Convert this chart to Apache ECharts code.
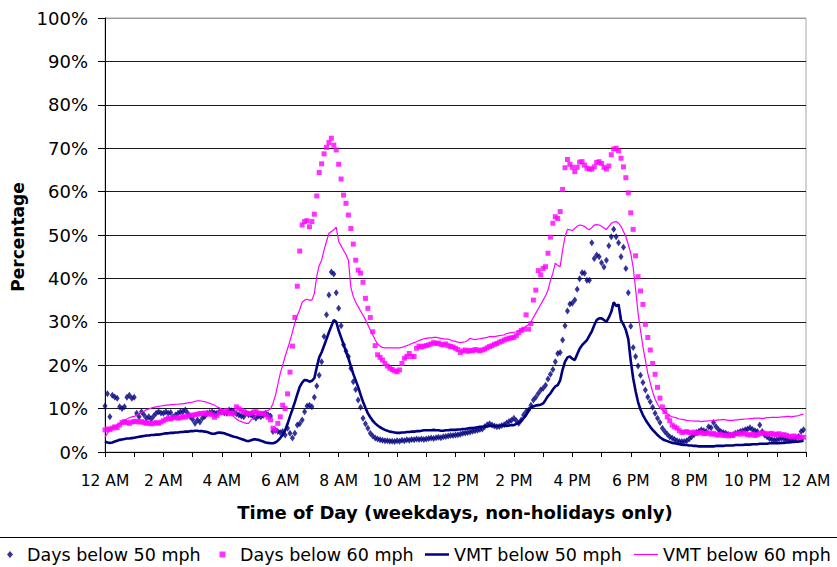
<!DOCTYPE html>
<html><head><meta charset="utf-8">
<script src="https://cdn.jsdelivr.net/npm/echarts/dist/echarts.min.js"></script>
<style>html,body{margin:0;padding:0;background:#fff}#c{width:837px;height:567px}</style>
</head><body><div id="c"></div>
<script>
// x-axis tick labels (every 2 hours)
const tickLabels = ['12 AM','2 AM','4 AM','6 AM','8 AM','10 AM','12 PM','2 PM','4 PM','6 PM','8 PM','10 PM','12 AM'];
// sampling step of the data, minutes
const stepMinutes = 5;

// Days below 50 mph (%), one value every 5 minutes, one row per hour
const days50 = [
10.6,13.4,8.1,13.1,12.7,12.4,10.4,10.0,10.4,12.6,13.1,12.4,
12.6,8.9,8.1,9.3,8.6,7.8,8.1,7.6,8.3,8.9,9.3,9.0,
8.9,9.3,8.9,9.1,8.1,8.5,8.9,9.3,9.3,9.7,8.9,8.1,
7.5,6.6,7.4,6.9,7.8,8.2,8.9,9.1,9.3,9.0,8.9,9.3,
9.3,9.0,8.9,9.7,9.5,9.3,8.8,8.5,8.3,8.1,8.9,8.6,
8.5,8.2,7.8,8.3,8.1,8.4,8.9,8.6,8.3,4.7,5.0,4.7,
4.5,4.7,3.9,5.5,4.3,3.2,4.3,6.2,6.5,7.4,9.3,10.6,
10.8,10.4,12.6,15.2,17.7,20.8,26.6,31.6,36.2,41.5,41.0,36.7,
33.1,29.1,24.7,23.3,22.0,19.3,16.2,14.4,12.0,10.3,7.8,6.5,
5.5,4.3,3.7,3.2,3.0,2.8,2.7,2.6,2.6,2.5,2.5,2.4,
2.6,2.5,2.7,2.6,2.8,2.7,2.9,2.8,3.0,2.9,3.0,2.9,
3.0,3.1,3.2,3.1,3.3,3.4,3.3,3.5,3.6,3.7,3.8,3.8,
3.9,4.0,4.1,4.3,4.4,4.5,4.6,4.8,4.9,5.0,5.2,5.3,
5.8,6.3,6.5,6.2,6.0,5.8,5.9,6.1,6.3,6.7,7.0,7.3,
7.8,7.2,6.6,7.4,8.5,9.3,9.7,10.8,12.0,12.6,13.5,14.3,
14.7,15.4,16.8,17.9,19.0,20.8,22.7,22.9,25.8,29.1,32.5,34.1,
34.3,35.0,37.5,39.9,41.3,41.2,39.6,39.6,48.2,44.6,45.4,45.0,
43.6,42.6,44.2,47.5,49.6,51.3,49.6,48.2,45.0,47.2,42.3,36.7,
29.0,24.1,22.0,19.8,17.7,16.0,14.3,12.7,11.6,10.3,8.9,7.8,
6.8,5.5,4.7,4.1,3.5,3.2,2.9,2.6,2.4,2.4,2.4,2.6,
3.0,3.5,4.0,4.5,4.8,5.1,4.9,4.7,5.8,5.6,6.8,5.9,
5.2,4.7,4.5,4.3,4.1,3.9,4.0,4.3,4.5,4.7,4.9,5.1,
5.3,5.6,5.2,4.9,4.7,6.2,4.7,3.9,3.5,3.1,2.9,2.7,
2.8,3.0,3.2,3.0,2.9,2.8,2.7,2.8,3.2,3.6,4.7,5.1
];

// Days below 60 mph (%)
const days60 = [
5.1,5.3,5.2,5.5,5.8,5.6,6.2,6.8,7.0,6.8,6.6,6.9,
7.0,7.1,6.9,7.0,6.8,6.6,6.7,6.5,6.6,6.8,6.6,6.9,
7.2,7.5,7.8,7.6,7.9,8.0,7.8,7.9,8.2,8.0,8.3,8.5,
8.4,8.6,8.7,8.9,8.8,9.0,8.7,8.9,8.6,8.0,8.4,9.0,
9.3,9.1,9.5,8.8,9.0,8.9,10.4,10.0,9.6,9.3,9.0,8.8,
8.9,9.2,9.3,9.0,8.8,8.9,8.5,8.0,7.4,5.5,5.0,6.6,
8.1,10.8,10.0,13.4,18.4,24.4,31.0,38.2,46.3,52.3,53.1,53.3,
51.9,53.1,54.8,59.0,64.4,66.4,68.7,70.2,71.3,72.3,70.7,69.6,
66.3,62.9,59.2,57.3,54.6,51.5,47.9,44.2,41.9,41.2,39.1,35.4,
33.1,31.0,27.7,24.5,22.4,21.8,21.2,20.4,19.8,19.3,19.0,18.7,
18.5,18.9,20.4,21.6,22.0,22.7,22.0,22.0,23.9,24.4,24.2,24.4,
24.5,24.7,24.9,25.2,25.0,25.1,24.8,24.7,24.9,24.5,24.3,24.2,
23.9,23.6,22.9,23.3,23.5,23.2,23.4,23.3,23.6,23.5,23.3,23.5,
23.7,24.0,24.3,24.5,24.8,25.0,25.3,25.5,25.8,26.0,26.2,26.3,
26.4,26.8,27.5,28.0,28.3,31.6,28.3,29.6,35.0,37.3,41.8,40.8,
42.3,42.7,45.8,49.5,52.7,54.2,53.8,55.4,60.5,65.5,67.4,66.3,
65.6,64.6,65.6,66.8,66.9,66.1,65.4,65.2,65.2,65.7,66.7,66.9,
66.5,65.6,65.2,65.9,68.5,69.8,70.0,69.4,67.7,65.7,63.2,59.7,
55.1,51.3,45.2,40.4,37.1,34.0,29.4,26.4,23.5,20.4,17.9,14.9,
12.4,10.4,9.3,8.1,7.2,6.2,5.8,5.5,4.9,4.5,4.6,4.7,
4.5,4.4,4.6,4.3,4.4,4.5,4.2,4.3,4.4,4.1,4.3,4.0,
3.9,4.1,3.8,3.9,3.7,4.0,3.8,4.2,4.3,4.1,4.4,4.2,
4.0,3.9,4.1,3.8,4.0,4.2,4.4,4.3,4.1,4.2,4.3,4.0,
4.1,4.2,3.9,4.0,3.8,3.6,3.5,3.7,3.4,3.5,3.3,3.4
];

// VMT below 50 mph (%)
const vmt50 = [
2.4,2.2,2.1,2.2,2.4,2.6,2.8,2.9,3.0,3.1,3.1,3.2,
3.3,3.4,3.5,3.6,3.7,3.8,3.8,3.9,3.9,4.0,4.0,4.1,
4.2,4.3,4.3,4.4,4.4,4.5,4.5,4.6,4.6,4.7,4.7,4.8,
4.8,4.9,4.9,4.8,4.8,4.7,4.6,4.4,4.2,4.2,4.4,4.5,
4.4,4.3,4.1,3.9,3.7,3.5,3.4,3.2,3.0,2.8,2.6,2.5,
2.7,2.9,2.9,2.8,2.6,2.4,2.2,2.1,2.0,2.0,2.2,2.6,
3.2,4.0,5.0,6.5,8.2,9.8,11.5,13.3,15.0,16.0,16.6,16.5,
16.2,16.4,17.0,19.5,21.8,23.0,24.5,26.0,27.6,29.0,30.4,30.0,
28.0,26.4,24.8,23.2,21.6,19.8,18.0,16.5,15.0,13.2,11.6,10.2,
8.9,8.0,7.2,6.6,6.1,5.7,5.4,5.1,4.9,4.7,4.6,4.5,
4.4,4.4,4.5,4.5,4.6,4.6,4.7,4.7,4.8,4.8,4.9,5.0,
5.0,5.0,5.0,5.1,5.0,5.0,4.9,4.9,5.0,5.0,5.1,5.1,
5.1,5.2,5.2,5.3,5.3,5.4,5.5,5.5,5.6,5.7,5.8,5.8,
5.9,5.9,6.0,6.0,6.0,6.0,6.0,6.1,6.1,6.0,6.1,6.2,
6.2,6.5,6.7,7.2,7.8,8.5,9.5,10.3,10.5,10.7,10.8,10.9,
11.2,12.0,12.9,13.5,14.4,15.1,15.4,16.5,19.0,20.8,21.8,22.0,
21.5,21.2,22.5,23.8,24.6,25.2,25.8,26.8,27.8,29.2,30.4,30.8,
30.8,30.4,30.0,31.0,32.3,34.5,33.6,34.0,30.4,29.4,28.1,26.0,
21.0,17.0,14.0,11.5,9.8,8.5,7.5,6.6,5.8,5.1,4.5,3.9,
3.4,3.0,2.7,2.5,2.3,2.1,2.0,1.9,1.8,1.7,1.6,1.6,
1.5,1.5,1.4,1.4,1.3,1.3,1.3,1.3,1.3,1.3,1.3,1.4,
1.4,1.4,1.4,1.5,1.5,1.5,1.5,1.6,1.6,1.6,1.6,1.7,
1.7,1.7,1.8,1.8,1.8,1.9,1.9,1.9,1.9,2.0,2.0,2.0,
2.0,2.0,2.1,2.1,2.2,2.2,2.3,2.3,2.4,2.4,2.5,2.6
];

// VMT below 60 mph (%)
const vmt60 = [
3.5,4.3,5.1,5.5,5.9,6.3,6.6,7.0,7.3,7.6,7.9,8.1,
8.2,8.5,8.8,9.1,9.4,9.7,9.9,10.1,10.3,10.4,10.5,10.6,
10.7,10.8,10.8,10.9,10.9,11.0,11.0,11.1,11.1,11.2,11.3,11.4,
11.5,11.7,11.8,11.8,11.7,11.6,11.4,11.2,11.0,10.8,10.4,10.2,
9.8,9.6,9.3,8.9,8.5,8.1,7.6,7.2,7.0,6.8,6.6,6.6,
7.4,7.8,8.3,8.9,9.1,9.3,9.4,9.6,9.9,11.2,13.0,15.5,
18.1,20.0,22.0,23.8,25.6,27.6,29.8,31.5,32.8,34.5,35.0,35.2,
35.0,35.0,36.5,40.5,43.0,44.2,46.5,48.5,50.4,50.8,51.2,51.8,
48.5,47.5,46.5,45.5,44.2,38.0,35.8,34.5,33.5,32.5,31.5,30.5,
29.3,28.1,27.0,25.8,24.9,24.4,24.1,24.0,24.0,24.0,24.0,24.0,
24.0,24.0,24.1,24.3,24.5,24.7,25.0,25.2,25.4,25.7,25.9,26.1,
26.2,26.3,26.3,26.4,26.4,26.3,26.2,26.1,26.0,26.0,25.8,25.6,
25.5,25.3,25.2,25.3,25.4,25.7,26.2,26.0,25.9,26.0,26.1,26.2,
26.3,26.4,26.6,26.6,26.6,26.7,26.8,26.9,27.0,27.3,27.4,27.5,
27.6,27.7,27.9,28.1,28.5,29.0,29.3,30.0,31.0,32.0,33.0,34.0,
35.0,36.0,37.3,39.5,41.2,43.5,43.0,42.7,46.5,49.6,51.3,51.2,
51.0,51.5,52.0,52.3,52.2,52.0,51.5,51.2,51.7,52.3,52.4,52.3,
52.0,51.6,51.3,52.0,52.7,53.0,53.1,52.7,52.0,50.8,49.6,47.8,
45.8,42.5,37.5,32.0,28.0,24.3,21.2,18.1,16.0,13.8,12.2,11.0,
10.2,9.7,9.2,8.8,8.4,8.1,8.0,7.8,7.6,7.5,7.4,7.3,
7.2,7.2,7.1,7.1,7.1,7.0,7.1,7.1,7.2,7.2,7.3,7.3,
7.4,7.4,7.5,7.4,7.3,7.3,7.3,7.4,7.4,7.5,7.5,7.6,
7.6,7.7,7.7,7.8,7.8,7.8,7.7,7.8,7.9,7.9,8.0,8.0,
8.0,8.0,8.1,8.1,8.2,8.2,8.1,8.2,8.3,8.4,8.6,8.7
];

const NAVY = '#000080', MAGENTA = '#FF00FF';
const FONT = 'DejaVu Sans';
const toPoints = arr => arr.map((v, i) => [i * stepMinutes / 60, v]);

const chart = echarts.init(document.getElementById('c'), null, {renderer: 'svg', width: 837, height: 567});

const legendBase = (name, icon, left, w, h, pad) => ({
  data: [{name: name, icon: icon}],
  left: left, top: 545.5, padding: 0,
  itemWidth: w, itemHeight: h,
  selectedMode: false,
  textStyle: {fontSize: 17.5, color: '#000', fontFamily: FONT, padding: [0, 0, 0, pad]}
});

const splitColors = ['#000'].concat(Array(9).fill('#1a1a1a')).concat(['#9a9a9a']);

chart.setOption({
  animation: false,
  backgroundColor: '#fff',
  textStyle: {fontFamily: FONT},
  grid: {left: 105, right: 31, top: 18, bottom: 115, show: true, borderColor: '#a6a6a6', borderWidth: 1,
         backgroundColor: 'transparent', containLabel: false, outerBoundsMode: 'none'},
  xAxis: {
    type: 'value', min: 0, max: 24, interval: 1,
    axisLine: {show: true, onZero: false, lineStyle: {color: '#000', width: 1}},
    axisTick: {show: true, inside: false, length: 5, lineStyle: {color: '#000'}},
    axisLabel: {margin: 21, fontSize: 15.5, color: '#000', fontFamily: FONT,
                formatter: v => (v % 2 === 0 ? tickLabels[v / 2] : '')},
    splitLine: {show: false}
  },
  yAxis: {
    type: 'value', min: 0, max: 100, interval: 10,
    axisLine: {show: true, lineStyle: {color: '#000', width: 1}},
    axisTick: {show: true, inside: false, length: 7, lineStyle: {color: '#000'}},
    axisLabel: {margin: 17, fontSize: 18, color: '#000', fontFamily: FONT, formatter: '{value}%'},
    splitLine: {show: true, lineStyle: {color: splitColors, width: 1}}
  },
  legend: [
    legendBase('Days below 50 mph', 'diamond', 7, 6, 7, 9),
    legendBase('Days below 60 mph', 'rect', 219.5, 6, 6, 9.5),
    legendBase('VMT below 50 mph', 'rect', 425, 24, 2.5, 0),
    legendBase('VMT below 60 mph', 'rect', 634, 24, 1.2, 0)
  ],
  graphic: [
    {type: 'rect', silent: true, shape: {x: -2, y: 537.5, width: 841, height: 40},
     style: {fill: 'none', stroke: '#000', lineWidth: 1}, z: 0},
    {type: 'text', x: 455, y: 512, silent: true,
     style: {text: 'Time of Day (weekdays, non-holidays only)', fontSize: 18, fontWeight: 'bold',
             fontFamily: FONT, fill: '#000', align: 'center', verticalAlign: 'middle'}},
    {type: 'text', x: 18, y: 237, rotation: Math.PI / 2, silent: true,
     style: {text: 'Percentage', fontSize: 17, fontWeight: 'bold',
             fontFamily: FONT, fill: '#000', align: 'center', verticalAlign: 'middle'}}
  ],
  series: [
    {name: 'Days below 50 mph', type: 'scatter', data: toPoints(days50), symbol: 'diamond', symbolSize: [5, 7],
     itemStyle: {color: NAVY}, z: 2},
    {name: 'Days below 60 mph', type: 'scatter', data: toPoints(days60), symbol: 'rect', symbolSize: 5,
     itemStyle: {color: MAGENTA}, z: 3},
    {name: 'VMT below 50 mph', type: 'line', data: toPoints(vmt50), symbol: 'none', showSymbol: false,
     lineStyle: {color: NAVY, width: 2.6}, itemStyle: {color: NAVY}, z: 4},
    {name: 'VMT below 60 mph', type: 'line', data: toPoints(vmt60), symbol: 'none', showSymbol: false,
     lineStyle: {color: MAGENTA, width: 1.2}, itemStyle: {color: MAGENTA}, z: 5}
  ]
});
</script></body></html>
